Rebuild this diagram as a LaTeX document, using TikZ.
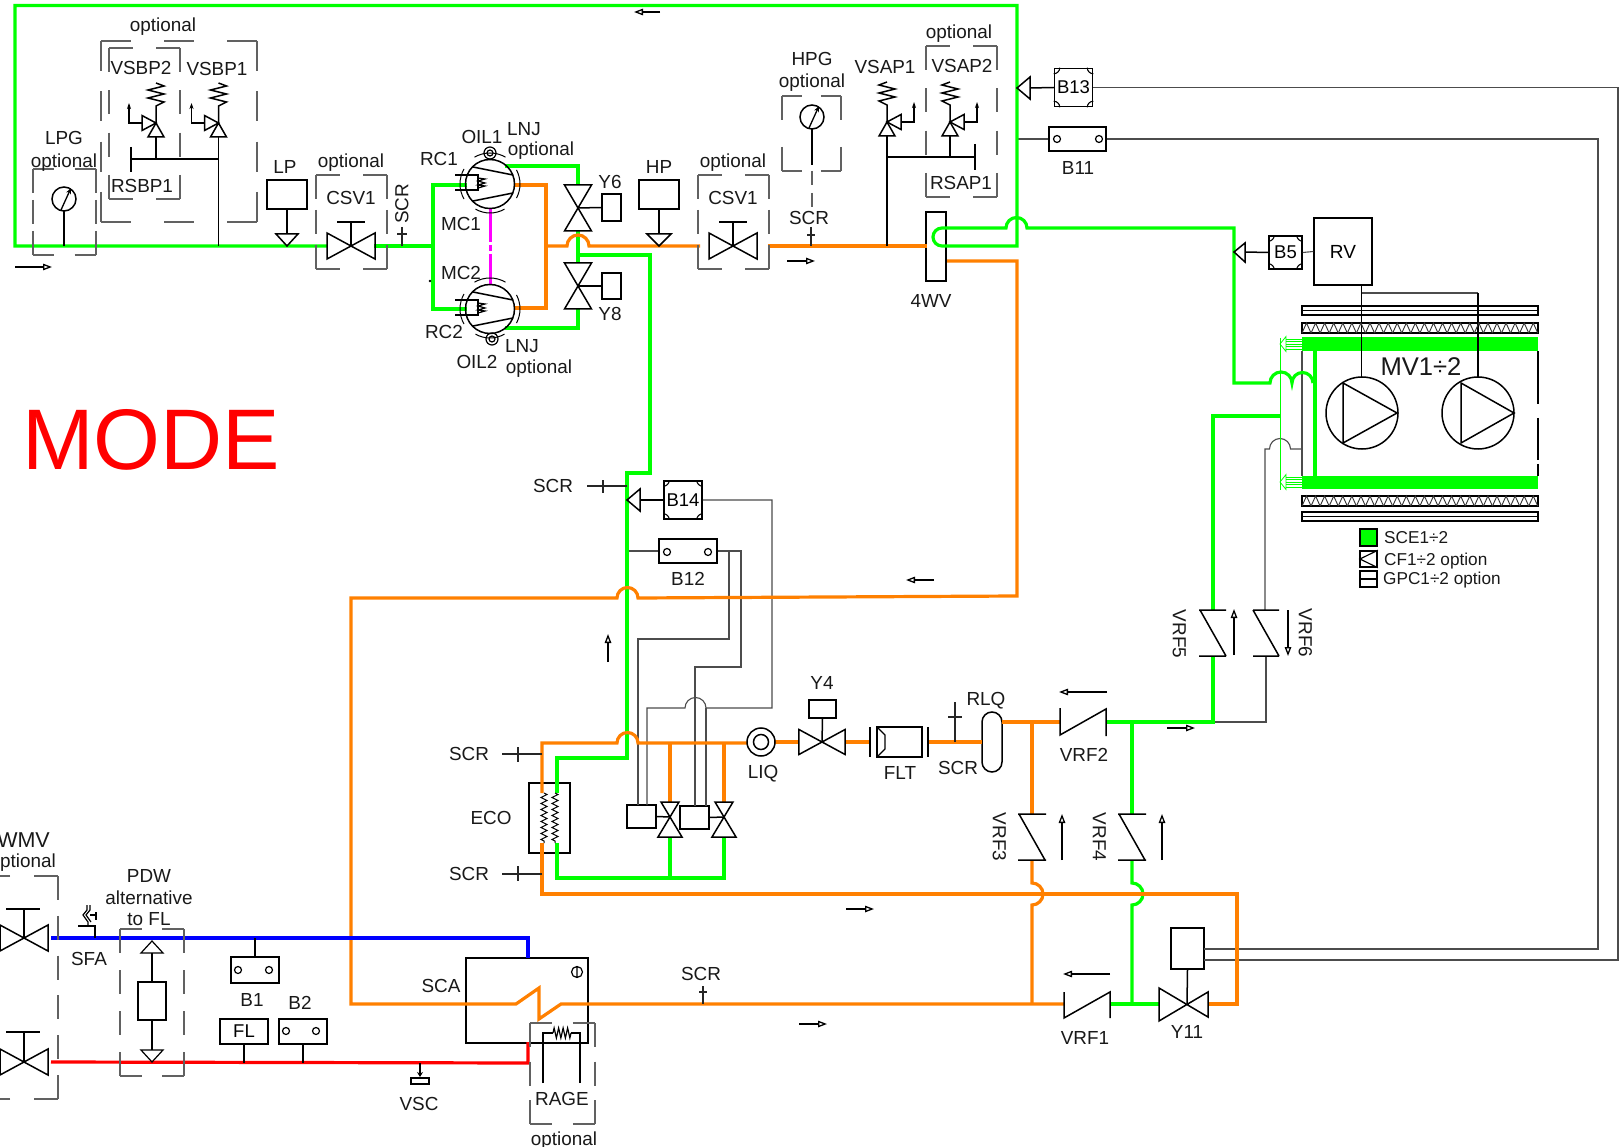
\documentclass[tikz,border=0pt]{standalone}
\usepackage{fontspec}
\setmainfont{Liberation Sans}
\usetikzlibrary{arrows.meta,decorations.pathmorphing}
\definecolor{pgreen}{HTML}{00FF00}
\definecolor{porange}{HTML}{FF8000}
\definecolor{pmag}{HTML}{FF00FF}
\definecolor{tgrey}{gray}{0.30}
\definecolor{dgrey}{gray}{0.38}
\tikzset{
  sym/.style={draw=black,line width=1.5pt,line join=miter},
  tickl/.style={draw=black!85,line width=1.1pt},
  thinl/.style={draw=tgrey,line width=1.1pt},
  gpipe/.style={draw=pgreen,line width=3.2pt,line join=miter},
  opipe/.style={draw=porange,line width=3.2pt,line join=miter},
  dbox/.style={draw=dgrey,line width=1.1pt},
  boxn/.style={draw=black,line width=1.5pt,inner sep=0pt,fill=none,font=\fontsize{18.5}{19}\selectfont},
  txt/.style={inner sep=0pt,font=\fontsize{18.9}{19}\selectfont,text height=14.5pt,text depth=0pt,text=black!90},
  opt/.style={txt},
  lgd/.style={inner sep=0pt,font=\fontsize{17.2}{18}\selectfont,text height=12.3pt,text depth=2pt,text=black!90,anchor=west},
  flow/.style={draw=black,line width=1.4pt,-{Triangle[open,length=9pt,width=6.5pt,line width=1.3pt]}},
  hbow/.pic={\draw[sym] (-24,-13)--(24,13)--(24,-13)--(-24,13)--cycle;},
  vbow/.pic={\draw[sym] (-13.5,-23)--(13.5,23)--(-13.5,23)--(13.5,-23)--cycle;},
  vbows/.pic={\draw[sym] (-9,-15)--(12,20)--(-12,20)--(9,-15)--cycle;},
  gaugep/.pic={\draw[sym] (0,0) circle[radius=12pt];
     \draw[draw=black,line width=1.3pt,-{Stealth[length=6pt,width=5pt]}] (-3,11)--(7,-11);},
  reliefp/.pic={
     \draw[sym] (0,-40)--(8,-37)--(-8,-33)--(8,-29)--(-8,-25)--(8,-21)--(0,-17)--(0,0);
     \draw[sym] (0,0)--(-8,14)--(8,14)--cycle;
     \draw[sym] (0,0)--(-14,-7.5)--(-14,7.5)--cycle;
     \draw[sym,-{Stealth[length=6pt,width=4pt]}] (-14,0)--(-27,0)--(-27,-20);},
  compp/.pic={
     \draw[sym] (0,0) circle[radius=24.5pt];
     \draw[sym] (-17,-17)--(23,-9);
     \draw[sym] (-17,17)--(23,9);
     \draw[sym] (-35,-9)--(-12,-9)--(-12,6)--(-35,6);
     \draw[draw=black,line width=1.2pt] (-12,-6)--(-5,-5)--(-12,-3)--(-5,-1)--(-12,1)--(-5,2)--(-12,4);
     \draw[draw=black,line width=1pt] (60:31pt) arc (60:120:31pt);
     \draw[draw=black,line width=1pt] (-28:30pt) arc (-28:28:30pt);
     \draw[draw=black,line width=1pt] (150:30pt) arc (150:210:30pt);
     \draw[draw=black,line width=1pt] (240:29pt) arc (240:300:29pt);},
  oilp/.pic={\draw[draw=black,line width=1.2pt] (0,0) circle[radius=6pt] (0,0) circle[radius=3pt];},
  coilarrow/.pic={
     \foreach \d in {-5,-2.5,0,2.5,5}{\draw[draw=pgreen,line width=0.7pt] (6,\d)--(22,\d);}
     \draw[draw=pgreen,line width=0.8pt] (6,-7.5)--(0,0)--(6,7.5)--cycle;},
}
\newcommand{\notches}[1]{%
  \draw[draw=black,line width=1.1pt] ([yshift=-6pt]#1.north west) arc (-90:0:6pt);
  \draw[draw=black,line width=1.1pt] ([xshift=-6pt]#1.north east) arc (180:270:6pt);
  \draw[draw=black,line width=1.1pt] ([yshift=6pt]#1.south east) arc (90:180:6pt);
  \draw[draw=black,line width=1.1pt] ([xshift=6pt]#1.south west) arc (0:90:6pt);}
\newcommand{\holes}[3]{\draw[draw=black,line width=1.2pt] (#1,#3) circle[radius=3.5pt] (#2,#3) circle[radius=3.5pt];}
% one side of a dashed frame: a dash sits on both corners
\newcommand{\dside}[5]{%
  \pgfmathsetmacro\dsL{abs(#3-#1)+abs(#4-#2)}%
  \pgfmathsetmacro\dsOn{min(#5,\dsL*0.34)}%
  \pgfmathsetmacro\dsN{max(2,round((\dsL+0.7*#5)/(1.7*#5)))}%
  \pgfmathsetmacro\dsGap{(\dsL-\dsN*\dsOn)/(\dsN-1)}%
  \draw[dbox,dash pattern=on \dsOn pt off \dsGap pt] (#1,#2)--(#3,#4);}
\newcommand{\dframe}[5][24]{%
  \dside{#2}{#3}{#4}{#3}{#1}\dside{#2}{#5}{#4}{#5}{#1}%
  \dside{#2}{#3}{#2}{#5}{#1}\dside{#4}{#3}{#4}{#5}{#1}}
\begin{document}
\begin{tikzpicture}[x=1pt,y=-1pt]
\clip (0,0) rectangle (1623,1147);
\fill[white] (0,0) rectangle (1623,1147);

% ---------- named junctions and ends
\coordinate (csv1) at (351,246);
\coordinate (csv2) at (733,246);
\coordinate (y6c) at (578,208);
\coordinate (y8c) at (578,286);
\coordinate (mc1) at (490,184);
\coordinate (mc2) at (490,309);
\coordinate (v1) at (670,817);
\coordinate (v2) at (724,817);
\coordinate (y4c) at (822,742);
\coordinate (y11c) at (1187,1004);
\coordinate (wmv1) at (24,938);
\coordinate (wmv2) at (24,1062);
\coordinate (j1213) at (1213,722);
\coordinate (j1132) at (1132,722);
\coordinate (j1032) at (1032,722);

% ---------- boxes
\node[boxn,minimum width=38pt,minimum height=38pt] (b13) at (1073.5,87.5) {B13};
\node[boxn,minimum width=57pt,minimum height=24pt] (b11) at (1077.5,139) {};
\node[boxn,minimum width=38pt,minimum height=38pt] (b14) at (683,500) {B14};
\node[boxn,minimum width=58pt,minimum height=24pt] (b12) at (688,551) {};
\node[boxn,minimum width=33pt,minimum height=33pt] (b5) at (1285.5,252.5) {B5};
\node[boxn,minimum width=58pt,minimum height=67pt,font=\fontsize{19}{19}\selectfont] (rv) at (1343,251.5) {RV};
\node[boxn,minimum width=40pt,minimum height=29pt] (lp) at (287,194.5) {};
\node[boxn,minimum width=40pt,minimum height=29pt] (hp) at (659,194.5) {};
\node[boxn,minimum width=19pt,minimum height=27pt] (y6a) at (611.5,207.5) {};
\node[boxn,minimum width=19pt,minimum height=26pt] (y8a) at (611.5,286) {};
\node[boxn,minimum width=29pt,minimum height=23pt,line width=1.3pt] (va1) at (641.5,816.5) {};
\node[boxn,minimum width=29pt,minimum height=23pt,line width=1.3pt] (va2) at (694.5,817.5) {};
\node[boxn,minimum width=27pt,minimum height=18pt] (y4a) at (822.5,709) {};
\node[boxn,minimum width=33pt,minimum height=41pt] (y11a) at (1187.5,948.5) {};
\node[boxn,minimum width=48pt,minimum height=26pt] (b1) at (255,970) {};
\node[boxn,minimum width=48pt,minimum height=25pt] (fl) at (244,1031.5) {FL};
\node[boxn,minimum width=48pt,minimum height=25pt] (b2) at (303,1031.5) {};
\node[boxn,minimum width=28pt,minimum height=38pt,line width=1.1pt] (pdwbox) at (152,1001) {};
\node[boxn,minimum width=122pt,minimum height=85pt] (sca) at (527,1000.5) {};
\node[boxn,minimum width=41pt,minimum height=70pt,line width=1.2pt] (eco) at (549.5,818) {};
\node[boxn,minimum width=45pt,minimum height=30pt] (flt) at (899.5,742) {};
\node[boxn,minimum width=20pt,minimum height=60pt,rounded corners=10pt] (rlq) at (992,742) {};
\node[boxn,minimum width=20pt,minimum height=69pt] (wv) at (936,246.5) {};

% ---------- thin signal lines
\draw[thinl] (b13.east) -- (1618,87.5) |- (1204,960);
\draw[thinl] (b11.east) -- (1598,139) |- (1204,949);
\draw[thinl] (1017,139) -- (b11.west);
\draw[thinl] (627,551) -- (b12.west);
\draw[thinl] (b14.east) -- (772,500) -- (772,708) -- (706,708) arc (0:180:10.5pt) -- (647,708) -- (647,805);
\draw[thinl] (706,708) -- (706,806);
\draw[thinl] (b12.east) -- (741,551) -- (741,667) -- (695,667) -- (695,806);
\draw[thinl] (729,551) -- (729,639) -- (638,639) -- (638,805);
\draw[thinl] (j1213) -- (1266,722) -- (1266,656);
\draw[thinl] (1265,610) -- (1265,449) -- (1269.5,449) arc (180:0:10.5pt) -- (1302,449);
\draw[thinl] (1302,351) -- (1302,476);
\draw[thinl] (b5.east) -- (rv.west);
\draw[draw=black,line width=1.1pt] (1361.5,285) -- (1361.5,377);
\draw[thinl] (1361.5,293) -- (1478,293);
\draw[draw=black,line width=1.1pt] (1478,293) -- (1478,377);

% ---------- coil strips
\foreach \t/\h in {306/9,512/9}{
  \draw[draw=black,line width=1.2pt] (1302,\t) rectangle (1538,\t+\h);
  \draw[draw=black,line width=1.2pt] (1302,\t+4.5) -- (1538,\t+4.5);}
\foreach \t in {323,496}{
  \draw[draw=black,line width=1.2pt] (1302,\t) rectangle (1538,\t+10);
  \foreach \i in {0,...,25}{\draw[draw=black!80,line width=0.9pt] ({1302+9.07*\i},\t+10) -- ({1306.5+9.07*\i},\t) -- ({1311+9.07*\i},\t+10);}}
\fill[pgreen] (1302,337) rectangle (1538,351);
\fill[pgreen] (1302,476) rectangle (1538,489);
\draw[draw=black,line width=1.1pt,dash pattern=on 53pt off 14pt on 42pt off 4pt on 12pt] (1538,351) -- (1538,476);
\draw[draw=black,line width=1.1pt] (1361.5,337) -- (1361.5,351);
\draw[draw=black,line width=1.1pt] (1478,337) -- (1478,351);

% ---------- green pipes
\coordinate (csv1L) at (327,246);
\coordinate (csv1R) at (374,246);
\coordinate (jsuc) at (433,246);
\draw[gpipe] (csv1L) -- (15,246) -- (15,5.5) -- (1017,5.5) -- (1017,246) -- (942,246) arc (270:90:9pt) -- (1006,228) arc (180:0:10.5pt) -- (1234,228) -- (1234,383) -- (1270,383) arc (180:0:11pt) arc (180:0:10.5pt);
\draw[gpipe] (csv1R) -- (jsuc);
\draw[gpipe] (467,185) -- (433,185) -- (433,309) -- (467,309);
\draw[gpipe] (505,166) -- (578,166) -- (578,185);
\draw[gpipe] (578,231) -- (578,263);
\draw[gpipe] (578,309) -- (578,328) -- (505,328);
\draw[gpipe] (578,255) -- (650,255) -- (650,473) -- (627,473) -- (627,758) -- (557,758) -- (557,793);
\draw[gpipe] (557,843) -- (557,878) -- (724,878) -- (724,837);
\draw[gpipe] (670,878) -- (670,837);
\draw[gpipe] (1106,722) -- (j1213) -- (1213,656);
\draw[gpipe] (1213,610) -- (1213,416) -- (1280,416);
\draw[gpipe] (j1132) -- (1132,814);
\draw[gpipe] (1132,860) -- (1132,883) arc (90:-90:11pt) -- (1132,1004);
\draw[gpipe] (1110,1004) -- (1160,1004);
\draw[draw=pgreen,line width=3.6pt] (1315,351) -- (1315,476);
\draw[draw=pgreen,line width=1pt] (1280,338) -- (1280,490);
\pic at (1280,344) {coilarrow};
\pic at (1280,482) {coilarrow};

% ---------- orange pipes
\draw[opipe] (514,185) -- (546,185) -- (546,308) -- (514,308);
\draw[opipe] (546,246) -- (567,246) arc (180:0:11pt) -- (700,246);
\draw[opipe] (768,246) -- (927,246);
\draw[opipe] (947,261) -- (1017,261) -- (1017,596) -- (638,598) arc (0:180:10.5pt) -- (351,598) -- (351,1004) -- (516,1004) -- (539,988) -- (539,1019) -- (561,1004) -- (1064,1004);
\draw[opipe] (747,743) -- (638,743) arc (0:180:10.5pt) -- (542,743) -- (542,793);
\draw[opipe] (670,743) -- (670,802);
\draw[opipe] (724,743) -- (724,802);
\draw[opipe] (775,742) -- (799,742);
\draw[opipe] (846,742) -- (870,742);
\draw[opipe] (928,742) -- (982,742);
\draw[opipe] (1002,722) -- (1060,722);
\draw[opipe] (j1032) -- (1032,814);
\draw[opipe] (1032,860) -- (1032,883) arc (90:-90:11pt) -- (1032,1004);
\draw[opipe] (542,843) -- (542,894) -- (1237,894) -- (1237,1004) -- (1208,1004);

% ---------- magenta shaft
\draw[draw=pmag,line width=3pt,dash pattern=on 34pt off 3pt on 6pt off 3pt on 40pt off 3pt] (490,208) -- (490,285);

% ---------- blue and red
\draw[draw=blue,line width=3.2pt] (51,938) -- (528,938) -- (528,958);
\draw[draw=red,line width=3.2pt] (51,1062) -- (528,1063) -- (528,1042);

% ---------- valves
\pic at (csv1) {hbow};
\pic at (csv2) {hbow};
\pic at (y6c) {vbow};
\pic at (y8c) {vbow};
\pic at (v1) {vbows};
\pic at (v2) {vbows};
\pic[scale=0.96] at (y4c) {hbow};
\draw[sym] (1159,988) -- (1208,1017) -- (1208,992) -- (1159,1021) -- cycle;
\pic at (wmv1) {hbow};
\pic at (wmv2) {hbow};
% stems
\draw[sym] (csv1) -- (351,222);  \draw[sym] (337,222) -- (365,222);
\draw[sym] (csv2) -- (733,222);  \draw[sym] (719,222) -- (747,222);
\draw[sym] (wmv1) -- (24,909);   \draw[sym] (6,909) -- (40,909);
\draw[sym] (wmv2) -- (24,1032);  \draw[sym] (6,1032) -- (40,1032);
\draw[sym] (y6c) -- (y6a.west);
\draw[sym] (y8c) -- (y8a.west);
\draw[sym] (v1) -- (va1.east);
\draw[sym] (v2) -- (va2.east);
\draw[sym] (y4c) -- (y4a.south);
\draw[sym] (y11c) -- (y11a.south);
\draw[sym] (lp.south) -- (287,234);
\draw[sym] (276,234) -- (298,234) -- (287,246) -- cycle;
\draw[sym] (hp.south) -- (659,234);
\draw[sym] (647,234) -- (671,234) -- (659,246) -- cycle;

% ---------- compressors
\pic at (mc1) {compp};
\pic at (mc2) {compp};
\pic at (490,153) {oilp};
\pic at (492,339) {oilp};
\fill (430,281) circle[radius=1.3pt];

% ---------- sensor details
\notches{b13}\notches{b14}\notches{b5}
\holes{1057}{1099}{139}
\holes{667}{708}{552}
\holes{238}{269}{970}
\holes{286}{316}{1031}
\draw[sym] (b1.north) -- (255,938);
\draw[sym] (fl.south) -- (244,1063);
\draw[sym] (b2.south) -- (303,1063);
\draw[sym] (1030,88) -- (b13.west);
\draw[sym] (1017,88) -- (1030,77) -- (1030,99) -- cycle;
\draw[sym] (640,500) -- (b14.west);
\draw[sym] (627,500) -- (640,489) -- (640,511) -- cycle;
\draw[sym] (1245,252) -- (b5.west);
\draw[sym] (1234,252) -- (1245,243) -- (1245,262) -- cycle;

% ---------- gauges
\pic at (64,199) {gaugep};
\draw[sym] (64,211) -- (64,246);
\pic at (812,117) {gaugep};
\draw[sym] (812,129) -- (812,165);
\draw[dbox,dash pattern=on 14pt off 8pt] (812,171) -- (812,207);

% ---------- relief valves
\pic at (156,123) {reliefp};
\pic at (218.5,123) {reliefp};
\pic[xscale=-1] at (887,122) {reliefp};
\pic[xscale=-1] at (950,122) {reliefp};
\draw[sym] (156,137) -- (156,159);
\draw[sym] (131,159) -- (218.5,159);
\draw[sym] (131,147) -- (131,172);
\draw[sym] (218.5,137) -- (218.5,246);
\draw[sym] (887,136) -- (887,246);
\draw[sym] (950,136) -- (950,157);
\draw[sym] (887,157) -- (975,157);
\draw[sym] (975,144) -- (975,170);

% ---------- SCR ticks
\draw[tickl] (402,227) -- (402,246);  \draw[tickl] (397,234) -- (407,234);
\draw[tickl] (811,227) -- (811,246);  \draw[tickl] (807,235) -- (815,235);
\draw[tickl] (587,486) -- (627,486);  \draw[tickl] (603,480) -- (603,493);
\draw[tickl] (502,754) -- (542,754);  \draw[tickl] (518,747) -- (518,762);
\draw[tickl] (502,874) -- (542,874);  \draw[tickl] (518,866) -- (518,881);
\draw[tickl] (955,702) -- (955,742);  \draw[tickl] (948,717) -- (962,717);
\draw[tickl] (703,986) -- (703,1004); \draw[tickl] (699,992) -- (707,992);

% ---------- ECO coils
\draw[draw=black,line width=1pt,decorate,decoration={zigzag,amplitude=3pt,segment length=6pt}] (544,793) -- (544,843);
\draw[draw=black,line width=1pt,decorate,decoration={zigzag,amplitude=3pt,segment length=6pt}] (555,793) -- (555,843);

% ---------- LIQ, FLT
\draw[sym] (761,742) circle[radius=14pt];
\draw[sym] (761,742) circle[radius=7.5pt];
\draw[sym] (870,727) -- (870,757);
\draw[sym] (928,727) -- (928,757);
\draw[sym,line width=1.1pt] (877,727) -- (885,735) -- (885,749) -- (877,757);

% ---------- check valves
\draw[sym] (1060,708) -- (1060,735) -- (1106,709) -- (1106,736);
\draw[sym] (1064,992) -- (1064,1018) -- (1110,992) -- (1110,1018);
\draw[sym] (1018,814) -- (1046,814) (1019,814) -- (1045,860) (1018,860) -- (1046,860);
\draw[sym] (1118,814) -- (1146,814) (1119,814) -- (1145,860) (1118,860) -- (1146,860);
\draw[sym] (1199,610) -- (1226,610) (1200,610) -- (1226,656) (1199,656) -- (1226,656);
\draw[sym] (1253,610) -- (1279,610) (1253,610) -- (1279,656) (1253,656) -- (1279,656);

% ---------- flow arrows
\draw[flow] (15,267) -- (52,267);
\draw[flow] (660,12) -- (634,12);
\draw[flow] (787,261) -- (815,261);
\draw[flow] (608,662) -- (608,634);
\draw[flow] (934,580) -- (906,580);
\draw[flow] (846,909) -- (874,909);
\draw[flow] (799,1024) -- (827,1024);
\draw[flow] (1167,728) -- (1195,728);
\draw[flow] (1107,692) -- (1059,692);
\draw[flow] (1110,974) -- (1063,974);
\draw[flow] (1062,860) -- (1062,814);
\draw[flow] (1162,860) -- (1162,814);
\draw[flow] (1234,655) -- (1234,609);
\draw[flow] (1288,610) -- (1288,656);

% ---------- PDW filter
\draw[sym,line width=1.2pt] (152,941) -- (141,953) -- (163,953) -- cycle;
\draw[sym,line width=1.2pt] (152,953) -- (pdwbox.north);
\draw[sym,line width=1.2pt] (pdwbox.south) -- (152,1050);
\draw[sym,line width=1.2pt] (141,1050) -- (163,1050) -- (152,1062) -- cycle;

% ---------- SFA
\draw[draw=black,line width=1.2pt] (78,926) -- (95,926) -- (95,938);
\draw[draw=black,line width=1.2pt] (87,905) -- (87,910) -- (83,915) -- (88,922) -- (88,926);
\draw[draw=black,line width=1.2pt] (90,905) -- (90,910) -- (86,915) -- (91,922);
\draw[draw=black,line width=1.2pt] (90,915) -- (96,915) (96,912) -- (96,920);

% ---------- VSC
\draw[draw=black,line width=1.4pt,-{Stealth[length=5pt,width=6pt]}] (420,1063) -- (420,1077);
\draw[draw=black,line width=1.3pt] (411,1078) rectangle (429,1084);

% ---------- SCA mark, RAGE
\draw[draw=black,line width=1.2pt] (577,972) circle[radius=5.5pt] (577,966.5) -- (577,977.5);
\draw[sym] (543,1083) -- (543,1033) -- (553,1033);
\draw[sym] (580,1083) -- (580,1033) -- (571,1033);
\draw[draw=black,line width=1.2pt,decorate,decoration={zigzag,amplitude=5pt,segment length=4.5pt}] (553,1033) -- (571,1033);

% ---------- fans
\draw[sym] (1362,413) circle[radius=36pt];
\draw[sym] (1343,383) -- (1343,443) -- (1397,413) -- cycle;
\draw[sym] (1478,413) circle[radius=36pt];
\draw[sym] (1461,383) -- (1461,443) -- (1514,413) -- cycle;

% ---------- dashed frames
\dframe{33}{169}{96}{255}
\dframe[30]{101}{41}{257}{222}
\dframe{109}{48}{180}{199}
\dframe{316}{175}{387}{269}
\dframe{698}{175}{769}{269}
\dframe{782}{96}{841}{171}
\dframe{926}{46}{997}{197}
\dframe{120}{929}{184}{1076}
\dframe{530}{1023}{595}{1124}
\dside{58}{876}{58}{1099}{24}
\draw[dbox,dash pattern=on 24pt off 24pt] (58,876) -- (-20,876);
\draw[dbox,dash pattern=on 24pt off 24pt] (58,1099) -- (-20,1099);

% ---------- legend
\node[boxn,fill=pgreen,minimum width=17pt,minimum height=17pt] (lg1) at (1368.5,537.5) {};
\node[boxn,minimum width=17pt,minimum height=16pt] (lg2) at (1368.5,559) {};
\node[boxn,minimum width=17pt,minimum height=16pt] (lg3) at (1368.5,579) {};
\draw[sym,line width=1.2pt] (lg2.north east) -- (1360,559) -- (lg2.south east);
\draw[sym,line width=1.2pt] (lg3.west) -- (lg3.east);

% ---------- labels
\node[opt] (t1) at (163,24) {optional};
\node[txt] (t2) at (64,137) {LPG};
\node[opt] (t3) at (64,160) {optional};
\node[txt] (t4) at (141,67) {VSBP2};
\node[txt] (t5) at (217,68) {VSBP1};
\node[txt] (t6) at (142,185) {RSBP1};
\node[txt] (t7) at (285,166) {LP};
\node[opt] (t8) at (351,160) {optional};
\node[txt] (t9) at (351,197) {CSV1};
\node[txt,rotate=90] (t10) at (401,204) {SCR};
\node[txt] (t11) at (439,158) {RC1};
\node[txt] (t12) at (444,331) {RC2};
\node[txt] (t13) at (461,223) {MC1};
\node[txt] (t14) at (461,272) {MC2};
\node[txt] (t15) at (482,136) {OIL1};
\node[txt] (t16) at (477,361) {OIL2};
\node[txt] (t17) at (524,128) {LNJ};
\node[opt] (t18) at (541,148) {optional};
\node[txt] (t19) at (522,345) {LNJ};
\node[opt] (t20) at (539,366) {optional};
\node[txt] (t21) at (610,181) {Y6};
\node[txt] (t22) at (610,313) {Y8};
\node[txt] (t23) at (659,166) {HP};
\node[opt] (t24) at (733,160) {optional};
\node[txt] (t25) at (733,197) {CSV1};
\node[txt] (t26) at (812,58) {HPG};
\node[opt] (t27) at (812,80) {optional};
\node[txt] (t28) at (809,217) {SCR};
\node[txt] (t29) at (885,66) {VSAP1};
\node[txt] (t30) at (962,65) {VSAP2};
\node[txt] (t31) at (961,182) {RSAP1};
\node[opt] (t32) at (959,31) {optional};
\node[txt] (t33) at (931,300) {4WV};
\node[txt] (t34) at (1078,167) {B11};
\node[txt] (t35) at (553,485) {SCR};
\node[txt] (t36) at (688,578) {B12};
\node[txt] (t37) at (469,753) {SCR};
\node[txt] (t38) at (469,873) {SCR};
\node[txt] (t39) at (491,817) {ECO};
\node[txt] (t40) at (763,771) {LIQ};
\node[txt] (t41) at (822,682) {Y4};
\node[txt] (t42) at (900,772) {FLT};
\node[txt] (t43) at (958,767) {SCR};
\node[txt] (t44) at (986,698) {RLQ};
\node[txt] (t45) at (1084,754) {VRF2};
\node[txt] (t46) at (1085,1037) {VRF1};
\node[txt] (t47) at (1187,1031) {Y11};
\node[txt,rotate=-90] (t48) at (1000,837) {VRF3};
\node[txt,rotate=-90] (t49) at (1100,837) {VRF4};
\node[txt,rotate=-90] (t50) at (1180,634) {VRF5};
\node[txt,rotate=-90] (t51) at (1306,633) {VRF6};
\node[txt] (t52) at (701,973) {SCR};
\node[txt] (t53) at (441,985) {SCA};
\node[txt] (t54) at (89,958) {SFA};
\node[txt] (t55) at (149,875) {PDW};
\node[opt] (t56) at (149,897) {alternative};
\node[txt] (t57) at (149,918) {to FL};
\node[txt] (t58) at (252,999) {B1};
\node[txt] (t59) at (300,1002) {B2};
\node[txt] (t60) at (419,1103) {VSC};
\node[txt] (t61) at (562,1098) {RAGE};
\node[opt] (t62) at (564,1138) {optional};
\node[txt,anchor=east,font=\fontsize{21.5}{22}\selectfont] (t63) at (50,840) {WMV};
\node[opt,anchor=east] (t64) at (56,860) {optional};
\node[txt,font=\fontsize{25.6}{26}\selectfont,text height=18pt] (t65) at (1421,367) {MV1÷2};
\node[lgd] (t66) at (1384,538) {SCE1÷2};
\node[lgd] (t67) at (1384,560) {CF1÷2 option};
\node[lgd] (t68) at (1383,579) {GPC1÷2 option};
\node[inner sep=0pt,font=\fontsize{86}{86}\selectfont,text=red] (t69) at (151,440) {MODE};
\end{tikzpicture}
\end{document}
